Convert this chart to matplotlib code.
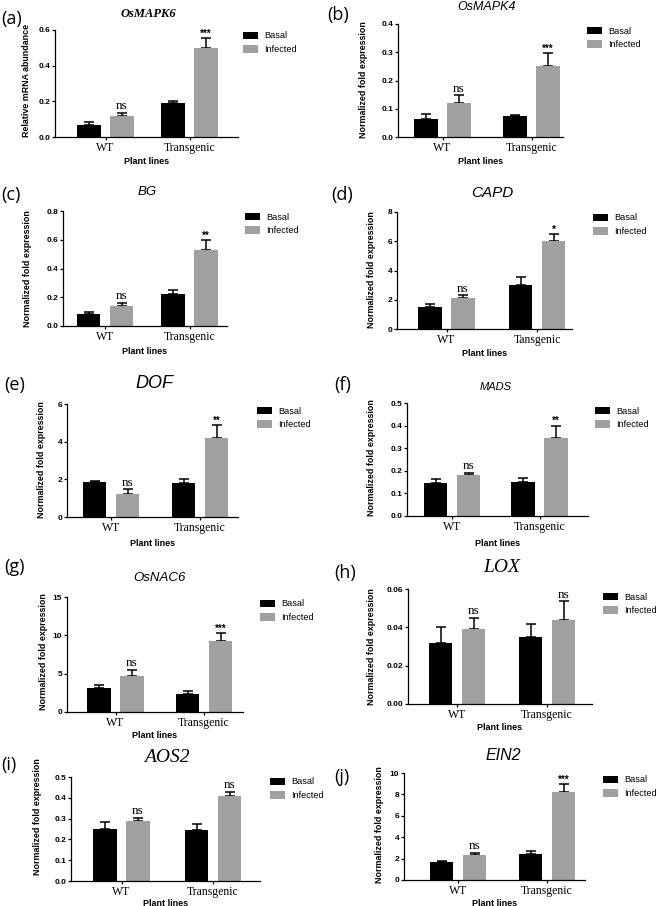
import matplotlib
matplotlib.use("Agg")
import matplotlib.pyplot as plt
from matplotlib.patches import Patch
from matplotlib.ticker import FormatStrFormatter

W, H = 658, 906
SANS = "Liberation Sans"
SERIF = "Liberation Serif"

# ---- data ----
panel_ids = ["(a)", "(b)", "(c)", "(d)", "(e)", "(f)", "(g)", "(h)", "(i)", "(j)"]
genes = ["OsMAPK6", "OsMAPK4", "BG", "CAPD", "DOF", "MADS", "OsNAC6", "LOX", "AOS2", "EIN2"]
lines = ["WT", "Transgenic"]
lines_d = ["WT", "Tansgenic"]

basal = [[0.07, 0.19], [0.065, 0.073], [0.085, 0.22], [1.5, 3.0], [1.85, 1.8],
         [0.145, 0.15], [3.1, 2.35], [0.032, 0.035], [0.25, 0.245], [1.65, 2.45]]
basal_err = [[0.015, 0.01], [0.017, 0.005], [0.015, 0.03], [0.2, 0.55], [0.05, 0.2],
             [0.02, 0.02], [0.45, 0.45], [0.008, 0.007], [0.035, 0.03], [0.1, 0.25]]
infected = [[0.12, 0.50], [0.12, 0.25], [0.14, 0.53], [2.1, 6.0], [1.22, 4.2],
            [0.18, 0.345], [4.75, 9.25], [0.039, 0.044], [0.287, 0.41], [2.35, 8.25]]
infected_err = [[0.015, 0.055], [0.027, 0.047], [0.02, 0.07], [0.2, 0.5], [0.25, 0.7],
                [0.01, 0.055], [0.75, 1.0], [0.006, 0.0095], [0.015, 0.02], [0.2, 0.7]]
signif = [["ns", "***"], ["ns", "***"], ["ns", "**"], ["ns", "*"], ["ns", "**"],
          ["ns", "**"], ["ns", "***"], ["ns", "ns"], ["ns", "ns"], ["ns", "***"]]
ymax = [0.6, 0.4, 0.8, 8, 6, 0.5, 15, 0.06, 0.5, 10]
ystep = [0.2, 0.1, 0.2, 2, 2, 0.1, 5, 0.02, 0.1, 2]
yfmt = ["%.1f", "%.1f", "%.1f", "%d", "%d", "%.1f", "%d", "%.2f", "%.1f", "%d"]
ylabels = ["Relative mRNA abundance"] + ["Normalized fold expression"] * 9

# ---- layout (pixels) ----
# axes: left, right, top, bottom ; WT group centre, group spacing
axes_px = [(55, 238, 30, 137), (398, 563, 24, 137), (63, 227, 211, 326), (397, 572, 212, 329),
           (67, 238, 404, 517), (407, 588, 403, 516), (67, 243, 597, 712), (408, 592, 589, 704),
           (71, 260, 777, 881), (404, 585, 773, 880)]
groups_px = [(105.5, 84), (442.5, 89), (105, 84.5), (446.5, 90.5), (111, 89),
             (452, 87.5), (115.5, 88.5), (457, 90), (121.5, 91.5), (458, 89)]
tag_px = [(1, 19), (327, 15), (1, 195), (331, 195), (4, 385),
          (334, 385), (4, 567), (334, 573), (1, 765), (334, 777)]
title_px = [(148, 14), (487, 7), (147, 192), (492, 193), (154, 384),
            (496, 387), (159, 578), (502, 568), (167, 757), (503, 756)]
title_style = [("serif", "bold", 9), ("sans", "normal", 9), ("sans", "normal", 9.5),
               ("sans", "normal", 11), ("sans", "normal", 13), ("sans", "normal", 8),
               ("sans", "normal", 9.5), ("serif", "normal", 14), ("serif", "normal", 14),
               ("sans", "normal", 11.5)]
ylab_px = [(27, 80), (363, 80), (28, 269), (372, 270), (42, 460),
           (372, 458), (43, 652), (372, 647), (37, 817), (379, 825)]
xlab_y = [161, 161, 351, 354, 544, 544, 736, 728, 903, 903]
leg_px = [(243, 37), (587, 32), (245, 218), (593, 219), (257, 412),
          (595, 412), (260, 605), (603, 598), (270, 783), (603, 781)]

GRAY = "#a0a0a0"

fig = plt.figure(figsize=(W / 100, H / 100), dpi=100)


def fx(x):
    return x / W


def fy(y):
    return 1 - y / H


for i in range(10):
    l, r, t, b = axes_px[i]
    ax = fig.add_axes([fx(l), fy(b), (r - l) / W, (b - t) / H])
    wt, sp = groups_px[i]
    bw = 23.5 / sp
    off = 16.5 / sp
    xs = [0, 1]
    xb = [x - off for x in xs]
    xi = [x + off for x in xs]
    ax.bar(xb, basal[i], width=bw, color="black", zorder=2)
    ax.bar(xi, infected[i], width=bw, color=GRAY, zorder=2)
    ax.errorbar(xb, basal[i], yerr=[[0, 0], basal_err[i]], fmt="none", ecolor="black",
                elinewidth=1.1, capsize=3.3, capthick=1.1, zorder=1)
    ax.errorbar(xi, infected[i], yerr=[[0, 0], infected_err[i]], fmt="none", ecolor="black",
                elinewidth=1.1, capsize=3.3, capthick=1.1, zorder=1)
    for j in range(2):
        top = infected[i][j] + infected_err[i][j]
        s = signif[i][j]
        if s == "ns":
            ax.annotate(s, (xi[j], top), xytext=(0, 0.5), textcoords="offset points",
                        ha="center", va="bottom", fontsize=9.5, family=SERIF)
        else:
            ax.annotate(s, (xi[j], top), xytext=(0, -0.5), textcoords="offset points",
                        ha="center", va="bottom", fontsize=7, family=SANS, weight="bold")

    ax.set_xlim((l - wt) / sp, (r - wt) / sp)
    ax.set_ylim(0, ymax[i])
    n = int(round(ymax[i] / ystep[i]))
    ax.set_yticks([k * ystep[i] for k in range(n + 1)])
    ax.yaxis.set_major_formatter(FormatStrFormatter(yfmt[i]))
    ax.set_xticks(xs)
    ax.set_xticklabels(lines_d if i == 3 else lines, family=SERIF, fontsize=8.5)
    for lab in ax.get_yticklabels():
        lab.set_family(SANS)
        lab.set_fontweight("bold")
        lab.set_fontsize(6)
    ax.tick_params(axis="both", length=2.5, width=0.9, direction="out")
    ax.tick_params(axis="x", pad=1)
    ax.tick_params(axis="y", pad=1)
    for side in ["top", "right"]:
        ax.spines[side].set_visible(False)
    for side in ["left", "bottom"]:
        ax.spines[side].set_linewidth(0.9)
    ax.set_facecolor("none")

    # panel tag, title, axis labels
    fig.text(fx(tag_px[i][0]), fy(tag_px[i][1]), panel_ids[i], family="Open Sans",
             fontsize=13, ha="left", va="center")
    fam, wgt, size = title_style[i]
    fig.text(fx(title_px[i][0]), fy(title_px[i][1]), genes[i],
             family=SERIF if fam == "serif" else SANS, style="italic", weight=wgt,
             fontsize=size, ha="center", va="center")
    fig.text(fx(ylab_px[i][0]), fy(ylab_px[i][1]), ylabels[i], rotation=90, family=SANS,
             weight="bold", fontsize=6.4, ha="center", va="center")
    fig.text(fx((l + r) / 2), fy(xlab_y[i]), "Plant lines", family=SANS, weight="bold",
             fontsize=6.5, ha="center", va="center")

    handles = [Patch(facecolor="black", label="Basal"), Patch(facecolor=GRAY, label="Infected")]
    fig.legend(handles=handles, loc="upper left",
               bbox_to_anchor=(fx(leg_px[i][0]), fy(leg_px[i][1] - 5.5)),
               frameon=False, borderpad=0, borderaxespad=0, handlelength=1.6,
               handleheight=0.9, handletextpad=0.7, labelspacing=0.5,
               prop={"family": SANS, "size": 6.6})

fig.savefig("out.png", dpi=100)
